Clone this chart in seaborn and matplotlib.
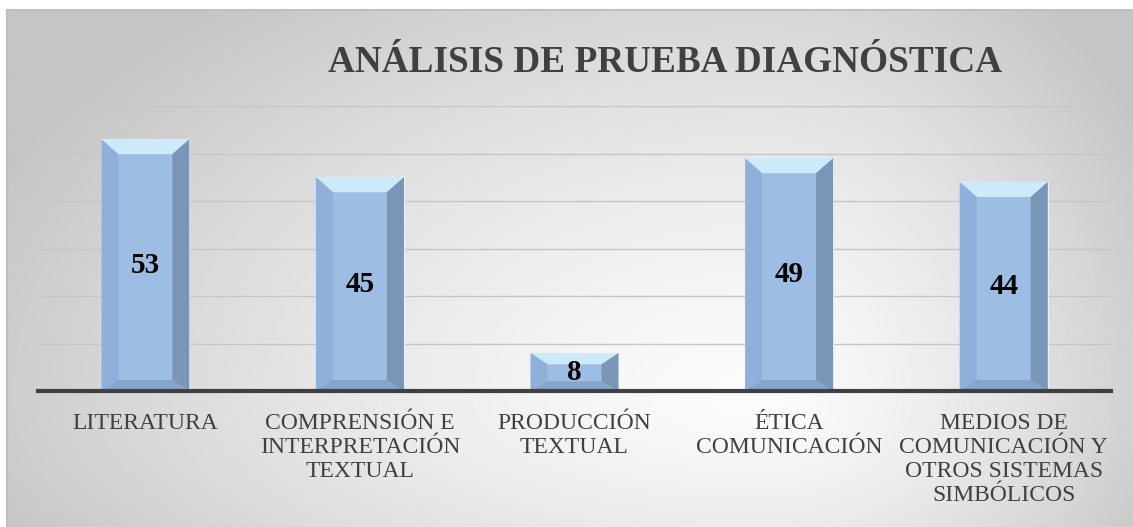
import numpy as np
import pandas as pd
import matplotlib
matplotlib.use("Agg")
import matplotlib.pyplot as plt
from matplotlib.patches import Polygon
import seaborn as sns

categories = ["LITERATURA", "COMPRENSIÓN E\nINTERPRETACIÓN\nTEXTUAL", "PRODUCCIÓN\nTEXTUAL",
              "ÉTICA\nCOMUNICACIÓN", "MEDIOS DE\nCOMUNICACIÓN Y\nOTROS SISTEMAS\nSIMBÓLICOS"]
values = [53, 45, 8, 49, 44]
title = "ANÁLISIS DE PRUEBA DIAGNÓSTICA"

sns.set_theme(style="white")
plt.rcParams['font.family'] = ['Liberation Serif', 'DejaVu Serif']

W, H, DPI = 1133, 527, 100
fig = plt.figure(figsize=(W / DPI, H / DPI), dpi=DPI)
fig.patch.set_facecolor('white')

# background frame with radial gradient
bg = fig.add_axes([7 / W, 0, 1 - 7 / W, (H - 10) / H], zorder=0)
xs = np.linspace(7, W, 600)
ys = np.linspace(10, H, 300)
X, Y = np.meshgrid(xs, ys)
cx, cy = 760, 400
rx = np.where(X < cx, 850, 450)
ry = np.where(Y < cy, 520, 300)
t = np.clip(np.sqrt(((X - cx) / rx) ** 2 + ((Y - cy) / ry) ** 2), 0, 1) ** 1.4
g = (252 - 55 * t) / 255
img = np.dstack([g, g, g])
bg.imshow(img, aspect='auto', extent=[0, 1, 0, 1], origin='upper')
bg.set_xlim(0, 1); bg.set_ylim(0, 1)
bg.set_xticks([]); bg.set_yticks([])
for s in ['right', 'bottom']:
    bg.spines[s].set_visible(False)
for s in ['top', 'left']:
    bg.spines[s].set_color('#c0c0c0')
    bg.spines[s].set_linewidth(1.5)

ax = fig.add_axes([38 / W, (H - 391) / H, (1111 - 38) / W, (391 - 106) / H], zorder=1)
ax.patch.set_alpha(0)

df = pd.DataFrame({"cat": categories, "val": values})
sns.barplot(data=df, x="cat", y="val", color="#9dbde3", width=0.41, saturation=1,
            ax=ax, zorder=3)
ax.set_xlim(-0.5, len(categories) - 0.5)
ax.set_ylim(0, 60)
ax.set_yticks(np.arange(0, 61, 10))
ax.set_yticklabels([])
ax.yaxis.grid(True, color='#c6c6c6', linewidth=1)
ax.set_axisbelow(True)
ax.set_xlabel(""); ax.set_ylabel("")
for s in ['top', 'right', 'left']:
    ax.spines[s].set_visible(False)
ax.spines['bottom'].set_color('#404040')
ax.spines['bottom'].set_linewidth(3)
ax.spines['bottom'].set_zorder(5)
ax.tick_params(axis='x', length=0, pad=16, labelsize=17, colors='#404040')
ax.tick_params(axis='y', length=0)
for lbl in ax.get_xticklabels():
    lbl.set_linespacing(1.18)

# bevel decoration computed from bar patches
inv = ax.transData.inverted()
for p in list(ax.patches):
    x0, y0 = p.get_x(), p.get_y()
    w, h = p.get_width(), p.get_height()
    (px0, py0) = ax.transData.transform((x0, y0))
    (px1, py1) = ax.transData.transform((x0 + w, y0 + h))
    h_px = py1 - py0
    sx = 17
    st = min(15, h_px * 0.3)
    sb = min(11, h_px * 0.25)
    corners = {
        'bl': (px0, py0), 'br': (px1, py0), 'tl': (px0, py1), 'tr': (px1, py1),
        'ibl': (px0 + sx, py0 + sb), 'ibr': (px1 - sx, py0 + sb),
        'itl': (px0 + sx, py1 - st), 'itr': (px1 - sx, py1 - st),
    }
    c = {k: inv.transform(v) for k, v in corners.items()}
    faces = [
        (['tl', 'tr', 'itr', 'itl'], '#cdeafb'),
        (['bl', 'tl', 'itl', 'ibl'], '#8eb0da'),
        (['br', 'tr', 'itr', 'ibr'], '#7a96b6'),
        (['bl', 'br', 'ibr', 'ibl'], '#88a4c8'),
    ]
    for keys, col in faces:
        ax.add_patch(Polygon([c[k] for k in keys], closed=True, facecolor=col,
                             edgecolor='none', zorder=4))
    p.set_edgecolor('#e8f2fb')
    p.set_linewidth(0.8)

for i, v in enumerate(values):
    ax.text(i, v / 2, str(v), ha='center', va='center', fontsize=21,
            fontweight='bold', color='black', zorder=6)

fig.text(665 / W, 1 - 62 / H, title, ha='center', va='center', fontsize=26.8,
         fontweight='bold', color='#404040', zorder=2)

fig.savefig("out.png", dpi=DPI)
